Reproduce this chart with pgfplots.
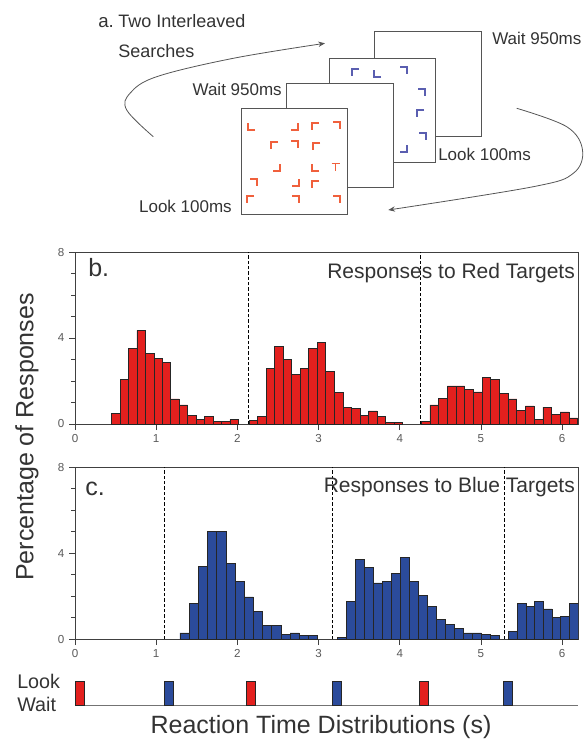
\documentclass[border=0pt]{standalone}
\usepackage{fontspec}
\setmainfont{Liberation Sans}
\usepackage{pgfplots}
\pgfplotsset{compat=1.18}
\usetikzlibrary{arrows.meta}
\definecolor{barred}{HTML}{E3201E}
\definecolor{barblue}{HTML}{2B4B9B}
\definecolor{markred}{HTML}{F0603C}
\definecolor{markblue}{HTML}{5A5EB0}
\definecolor{framegray}{HTML}{555555}
\definecolor{txt}{HTML}{333333}

% corner glyph in the search displays: vertex (x,y), arm directions
\newcommand{\crn}[4]{\draw ({#1+(#3)*7},{#2}) -- ({#1},{#2}) -- ({#1},{#2+(#4)*7});}

\pgfplotsset{
  rt/.style={
    scale only axis, width=377.55pt, height=129pt, anchor=south west,
    xmin=0, xmax=6.2, ymin=0, ymax=8,
    xtick={0,...,6}, ytick={0,4,8}, minor ytick={1,2,3,5,6,7},
    tick align=outside, tick pos=left,
    major tick length=4.5pt, minor tick length=3pt,
    axis line style={black!75, line width=0.6pt},
    tick style={black!75, line width=0.6pt},
    ticklabel style={font=\fontsize{8.7}{10}\selectfont, text=black!65},
    /pgf/number format/assume math mode=true,
  },
  rbar/.style={ybar, bar shift=0pt, fill=barred, draw=black!85, line width=0.5pt},
  bbar/.style={ybar, bar shift=0pt, fill=barblue, draw=black!85, line width=0.5pt},
  vline/.style={black, line width=0.6pt, dash pattern=on 2.5pt off 1.5pt},
}

\begin{document}
\begin{tikzpicture}
\begin{scope}[x=0.75pt, y=-0.75pt]
\useasboundingbox (0,0) rectangle (585,741);
% panel a
\node[anchor=base west, font=\fontsize{14}{16}\selectfont, text=txt, inner sep=0pt] at (98,28) {a.};
\node[anchor=base west, font=\fontsize{13.5}{16}\selectfont, text=txt, inner sep=0pt] at (118,28) {Two Interleaved};
\node[anchor=base west, font=\fontsize{13.5}{16}\selectfont, text=txt, inner sep=0pt] at (118,58) {Searches};
\begin{scope}[framegray, line width=0.75pt]
\draw[fill=white] (374.3,31.7) rectangle ++(107,104.5);
\draw[fill=white] (329,58.3) rectangle ++(106,104);
\draw[fill=white] (286.7,83.3) rectangle ++(106.5,104);
\draw[fill=white] (241.7,108.3) rectangle ++(105.6,106.7);
\end{scope}
\begin{scope}[markblue, line width=1pt]
\crn{352}{69}{1}{1}
\crn{374}{77}{1}{-1}
\crn{407}{67}{-1}{1}
\crn{425}{89}{-1}{1}
\crn{417}{110}{1}{1}
\crn{426}{133}{-1}{1}
\crn{407}{152}{-1}{-1}
\end{scope}
\begin{scope}[markred, line width=1pt]
\crn{248}{130}{1}{-1}
\crn{298}{130}{-1}{-1}
\crn{312}{123}{1}{1}
\crn{340}{122}{-1}{1}
\crn{271}{142}{1}{1}
\crn{298}{141}{-1}{1}
\crn{313}{143}{1}{1}
\crn{280}{171}{-1}{-1}
\crn{312}{171}{1}{-1}
\draw[markred, line width=1pt] (331.5,163.5) -- (339.5,163.5) (335.5,163.5) -- (335.5,171);
\crn{257}{179}{-1}{1}
\crn{299}{186}{-1}{-1}
\crn{312}{181}{1}{1}
\crn{247}{196}{1}{1}
\crn{299}{196}{-1}{1}
\crn{340}{196}{-1}{1}
\end{scope}
\begin{scope}[font=\fontsize{12.75}{15}\selectfont, text=txt, inner sep=0pt]
\node[anchor=base east] at (282,96) {Wait 950ms};
\node[anchor=base west] at (492,45) {Wait 950ms};
\node[anchor=base west] at (438,161) {Look 100ms};
\node[anchor=base east] at (232,213) {Look 100ms};
\end{scope}
\draw[framegray, line width=0.6pt, -{Stealth[length=5pt,width=4pt]}] plot[smooth, tension=0.6] coordinates {(153.3,136.7) (126.7,110) (130,93.3) (156.7,76.7) (233.3,58.3) (325,43.3)};
\draw[framegray, line width=0.6pt, -{Stealth[length=5pt,width=4pt]}] plot[smooth, tension=0.6] coordinates {(516.7,108.3) (566.7,126.7) (582.5,150) (573.3,173.3) (533.3,186.7) (388.3,210)};
% shared labels
\node[rotate=90, font=\fontsize{18.75}{22}\selectfont, text=txt] at (27,437) {Percentage of Responses};
\node[font=\fontsize{18.75}{22}\selectfont, text=txt] at (321,727) {Reaction Time Distributions (s)};
\node[anchor=base west, font=\fontsize{14.8}{17}\selectfont, text=txt, inner sep=0pt] at (17,688) {Look};
\node[anchor=base west, font=\fontsize{14.8}{17}\selectfont, text=txt, inner sep=0pt] at (17,711) {Wait};
\end{scope}

% panel b: responses to red targets
\begin{axis}[rt, at={(56.25pt,-318pt)}]
\addplot[rbar, bar width=0.104] coordinates {
(0.503,0.51)(0.607,2.08)(0.711,3.50)(0.815,4.35)(0.919,3.28)(1.023,3.06)(1.127,2.88)(1.231,1.17)
(1.335,0.89)(1.439,0.39)(1.543,0.20)(1.647,0.34)(1.751,0.12)(1.855,0.12)(1.959,0.20)};
\addplot[rbar, bar width=0.105] coordinates {
(2.1965,0.16)(2.3015,0.36)(2.4065,2.58)(2.5115,3.62)(2.6165,3.02)(2.7215,2.32)(2.8265,2.57)(2.9315,3.50)
(3.0365,3.78)(3.1415,2.46)(3.2465,1.45)(3.3515,0.79)(3.4565,0.73)(3.5615,0.39)(3.6665,0.61)(3.7715,0.37)
(3.8765,0.09)(3.9815,0.09)};
\addplot[rbar, bar width=0.107] coordinates {
(4.3175,0.12)(4.4245,0.89)(4.5315,1.18)(4.6385,1.77)(4.7455,1.77)(4.8525,1.62)(4.9595,1.49)(5.0665,2.16)
(5.1735,2.07)(5.2805,1.42)(5.3875,1.17)(5.4945,0.64)(5.6015,0.84)(5.7085,0.22)(5.8155,0.79)(5.9225,0.45)
(6.0295,0.56)(6.1365,0.28)};
\addplot[vline] coordinates {(2.14,0)(2.14,8)};
\addplot[vline] coordinates {(4.25,0)(4.25,8)};
\node[anchor=north west, inner sep=0pt, xshift=9.75pt, yshift=-4.5pt, font=\fontsize{18.75}{22}\selectfont, text=txt] at (rel axis cs:0,1) {b.};
\node[anchor=north east, inner sep=0pt, xshift=-2.5pt, yshift=-8pt, font=\fontsize{15.75}{18}\selectfont, text=txt] at (rel axis cs:1,1) {Responses to Red Targets};
\end{axis}

% panel c: responses to blue targets
\begin{axis}[rt, at={(56.25pt,-479.25pt)}]
\addplot[bbar, bar width=0.113] coordinates {
(1.3495,0.28)(1.4625,1.65)(1.5755,3.37)(1.6885,5.01)(1.8015,5.01)(1.9145,3.50)(2.0275,2.67)(2.1405,1.96)
(2.2535,1.28)(2.3665,0.62)(2.4795,0.62)(2.5925,0.23)(2.7055,0.28)(2.8185,0.16)(2.9315,0.16)};
\addplot[bbar, bar width=0.111] coordinates {
(3.2855,0.09)(3.3965,1.74)(3.5075,3.69)(3.6185,3.34)(3.7295,2.61)(3.8405,2.67)(3.9515,3.06)(4.0625,3.81)
(4.1735,2.67)(4.2845,2.02)(4.3955,1.52)(4.5065,0.90)(4.6175,0.67)(4.7285,0.51)(4.8395,0.28)(4.9505,0.28)
(5.0615,0.23)(5.1725,0.16)};
\addplot[bbar, bar width=0.107] coordinates {
(5.3935,0.37)(5.5005,1.65)(5.6075,1.51)(5.7145,1.73)(5.8215,1.40)(5.9285,1.01)(6.0355,1.06)(6.1425,1.65)};
\addplot[vline] coordinates {(1.10,0)(1.10,8)};
\addplot[vline] coordinates {(3.17,0)(3.17,8)};
\addplot[vline] coordinates {(5.29,0)(5.29,8)};
\node[anchor=north west, inner sep=0pt, xshift=7.5pt, yshift=-11pt, font=\fontsize{18.75}{22}\selectfont, text=txt] at (rel axis cs:0,1) {c.};
\node[anchor=north east, inner sep=0pt, xshift=-2.5pt, yshift=-7.5pt, font=\fontsize{15.75}{18}\selectfont, text=txt] at (rel axis cs:1,1) {Responses to Blue Targets};
\end{axis}

% look / wait timeline
\begin{axis}[scale only axis, width=377.55pt, height=18pt, anchor=south west, at={(56.25pt,-529.3pt)},
  xmin=0, xmax=6.2, ymin=0, ymax=1, axis y line=none, axis x line*=bottom,
  xtick=\empty, ytick=\empty, x axis line style={black!55, line width=0.75pt}]
\addplot[rbar, bar width=0.11] coordinates {(0.055,1)(2.165,1)(4.295,1)};
\addplot[bbar, bar width=0.11] coordinates {(1.155,1)(3.225,1)(5.335,1)};
\end{axis}
\end{tikzpicture}
\end{document}
